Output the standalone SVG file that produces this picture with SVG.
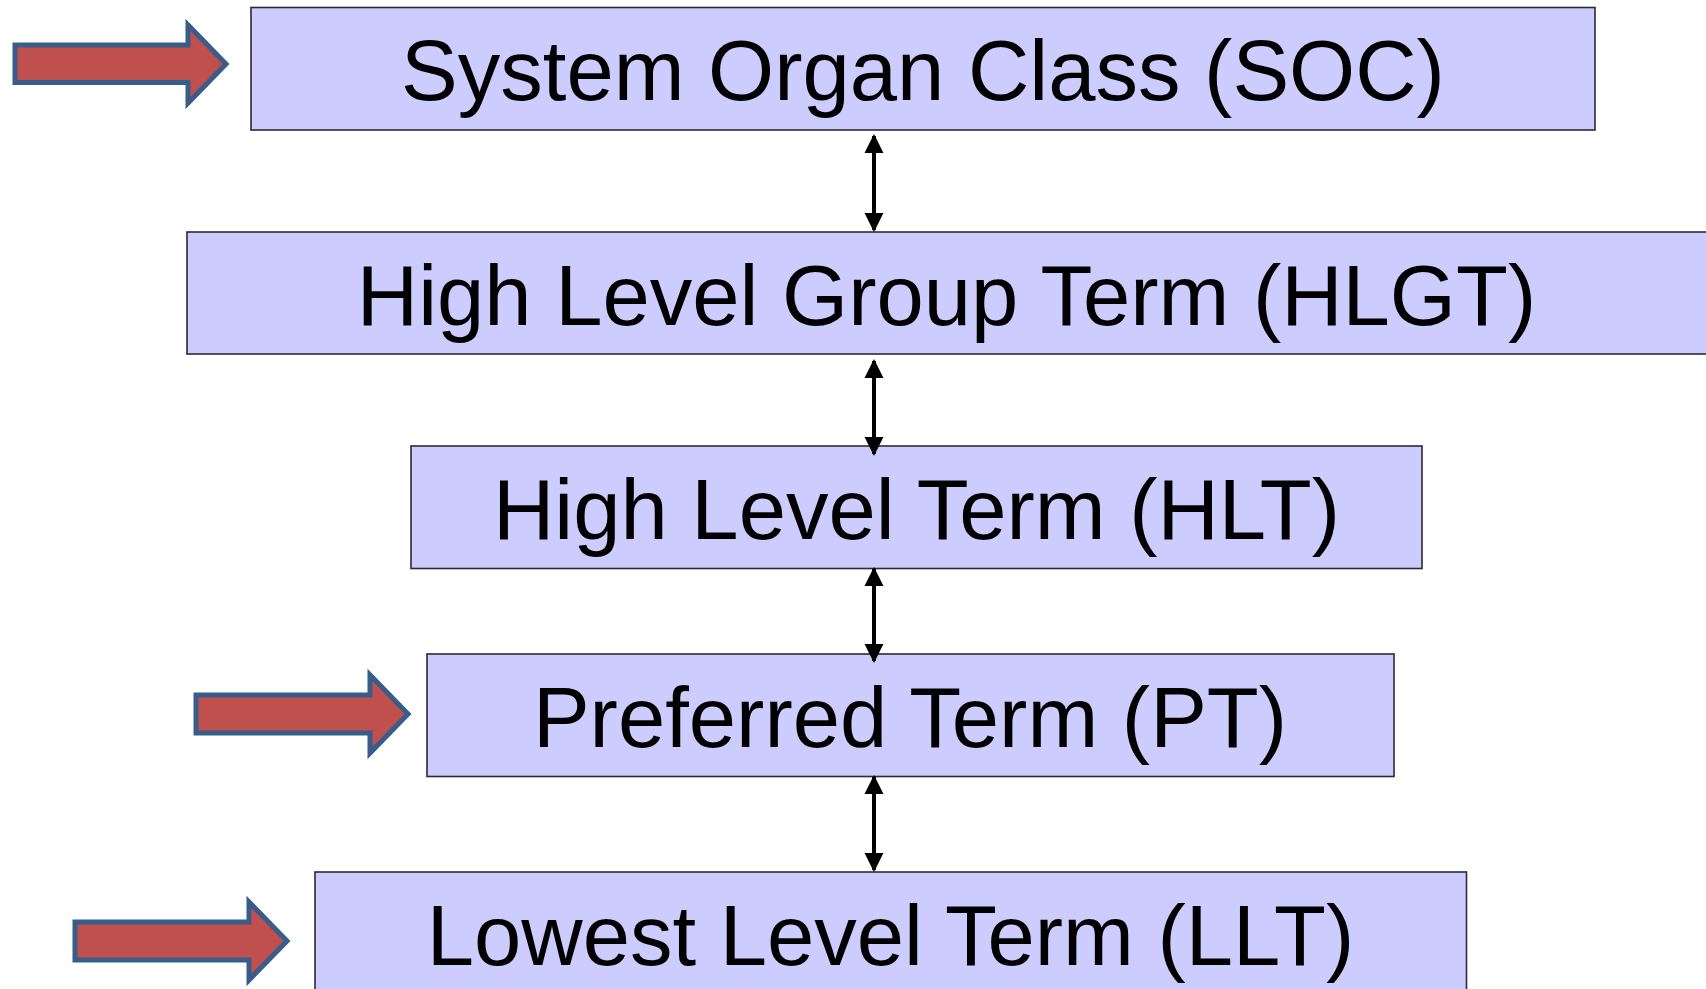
<svg xmlns="http://www.w3.org/2000/svg" width="1706" height="989" viewBox="0 0 1706 989">
<style>
.box{fill:#ccccff;stroke:#2a2a33;stroke-width:1.6}
.lbl{font-family:"Liberation Sans",Arial,sans-serif;font-size:85px;fill:#000;text-anchor:middle}
.big{fill:#c0504d;stroke:#385d8a;stroke-width:5;stroke-linejoin:miter}
.conn{stroke:#000;stroke-width:4;fill:none;marker-start:url(#ah);marker-end:url(#ah)}
</style>
<defs>
<marker id="ah" viewBox="0 0 10 10" refX="9" refY="5" markerWidth="4.8" markerHeight="4.8" orient="auto-start-reverse" markerUnits="strokeWidth">
<path d="M0,0 L10,5 L0,10 Z" fill="#000"/>
</marker>
</defs>
<g id="soc"><rect class="box" x="251" y="7.5" width="1344" height="122.5"/><text class="lbl" x="923" y="100">System Organ Class (SOC)</text></g>
<g id="hlgt"><rect class="box" x="187" y="232" width="1530" height="122"/><text class="lbl" x="946.5" y="325">High Level Group Term (HLGT)</text></g>
<g id="hlt"><rect class="box" x="411" y="446" width="1011" height="122.5"/><text class="lbl" x="916.5" y="539">High Level Term (HLT)</text></g>
<g id="pt"><rect class="box" x="427" y="654" width="967" height="122.5"/><text class="lbl" x="910" y="747">Preferred Term (PT)</text></g>
<g id="llt"><rect class="box" x="315" y="872" width="1151.5" height="130"/><text class="lbl" x="890.5" y="965">Lowest Level Term (LLT)</text></g>
<g id="connectors">
<line class="conn" x1="874" y1="136" x2="874" y2="230"/>
<line class="conn" x1="874" y1="361" x2="874" y2="454"/>
<line class="conn" x1="874" y1="569" x2="874" y2="661"/>
<line class="conn" x1="874" y1="777" x2="874" y2="870"/>
</g>
<g id="pointer-soc"><path class="big" d="M15,45 L188,45 L188,25 L226,64 L188,103 L188,82.5 L15,82.5 Z"/></g>
<g id="pointer-pt"><path class="big" d="M196,695 L370,695 L370,675 L408,714 L370,753 L370,733 L196,733 Z"/></g>
<g id="pointer-llt"><path class="big" d="M75,922 L249,922 L249,902 L287,941 L249,980 L249,960 L75,960 Z"/></g>
</svg>
